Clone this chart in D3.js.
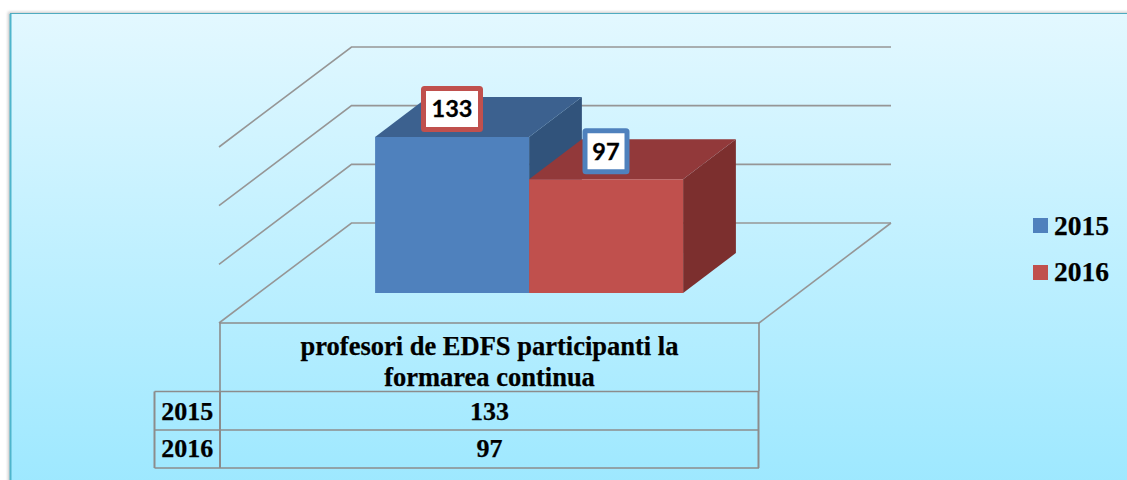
<!DOCTYPE html>
<html><head><meta charset="utf-8">
<script src="https://cdn.jsdelivr.net/npm/d3@7/dist/d3.min.js"></script>
<style>html,body{margin:0;padding:0;background:#fff;overflow:hidden}svg{display:block}</style>
</head><body><svg id="c" width="1127" height="480"></svg>
<script>
const categoryLines = ["profesori de EDFS participanti la", "formarea continua"];
const category = categoryLines.join(" ");
const seriesNames = ["2015", "2016"];
const seriesValues = [133, 97];
const tickValues = [0, 50, 100, 150];
const frontColors = ["#4f81bd", "#c0504d"];
const topColors = ["#3c618f", "#92393a"];
const sideColors = ["#31537b", "#7c2f2e"];

const svg = d3.select("#c");
const defs = svg.append("defs");
const grad = defs.append("linearGradient").attr("id", "bg").attr("x1", 0).attr("y1", 0).attr("x2", 0).attr("y2", 1);
grad.append("stop").attr("offset", "0%").attr("stop-color", "#e3f8ff");
grad.append("stop").attr("offset", "100%").attr("stop-color", "#9de8ff");
const blur = defs.append("filter").attr("id", "sh").attr("x", "-5%").attr("width", "110%");
blur.append("feGaussianBlur").attr("stdDeviation", 1.5);

// frame
svg.append("rect").attr("x", 8).attr("y", 12).attr("width", 1125).attr("height", 475).attr("fill", "#999").attr("opacity", 0.55).attr("filter", "url(#sh)");
svg.append("rect").attr("x", 10.5).attr("y", 13.5).attr("width", 1125).attr("height", 475).attr("fill", "url(#bg)").attr("stroke", "#4fabc0").attr("stroke-width", 1);
svg.append("line").attr("x1", 10.5).attr("x2", 10.5).attr("y1", 14).attr("y2", 480).attr("stroke", "#4fb5cc").attr("stroke-width", 2);

// 3-D projection: x on the front plane, value, depth fraction 0..1
const floorFront = 323, depthX = 132, depthY = 100;
const xCat = d3.scaleBand([category], [220, 759]).paddingOuter(0.375);
const xSer = d3.scaleBand(seriesNames, [xCat(category), xCat(category) + xCat.bandwidth()]);
const y = d3.scaleLinear([0, 150], [0, 176]);
const P = (x, v, d) => [x + d * depthX, floorFront - d * depthY - y(v)];
const poly = pts => d3.line()(pts) + "Z";

const gGrid = svg.append("g").attr("fill", "none").attr("stroke", "#969696").attr("stroke-width", 1.6);
tickValues.forEach(t => {
  gGrid.append("path").attr("d", d3.line()([P(219, t, 0), P(219.5, t, 1), P(759, t, 1)]));
});
gGrid.append("path").attr("d", d3.line()([P(759, 0, 1), P(759, 0, 0)]));

// bars
const d0 = 0.3, d1 = 0.7;
seriesNames.forEach((s, i) => {
  const a = xSer(s), b = a + xSer.bandwidth(), v = seriesValues[i];
  const g = svg.append("g");
  g.append("path").attr("fill", sideColors[i]).attr("d", poly([P(b, 0, d0), P(b, 0, d1), P(b, v, d1), P(b, v, d0)]));
  g.append("path").attr("fill", topColors[i]).attr("d", poly([P(a, v, d0), P(a, v, d1), P(b, v, d1), P(b, v, d0)]));
  g.append("path").attr("fill", frontColors[i]).attr("d", poly([P(a, 0, d0), P(b, 0, d0), P(b, v, d0), P(a, v, d0)]));
});

// data labels
const labelW = [57, 42];
seriesNames.forEach((s, i) => {
  const v = seriesValues[i];
  const c = P(xSer(s) + xSer.bandwidth() / 2, v, 0.5);
  const bw = labelW[i], bh = 41;
  const cx = c[0] - 26.5, cy = c[1] - 8;
  const g = svg.append("g");
  g.append("rect").attr("x", cx - bw / 2).attr("y", cy - bh / 2).attr("width", bw).attr("height", bh).attr("rx", 1)
    .attr("fill", "#fff").attr("stroke", frontColors[1 - i]).attr("stroke-width", 5);
  g.append("text").attr("x", cx).attr("y", cy + 8.5).attr("text-anchor", "middle")
    .attr("font-family", "Lato, sans-serif").attr("font-weight", 700).attr("font-size", 23.5).attr("fill", "#000")
    .attr("stroke", "#000").attr("stroke-width", 0.3).text(v);
});

// data table
const serif = "'Liberation Serif', serif";
const rowY = [391.5, 430, 468];
const tL = 154.5, tA = 220, tB = 759;
const gT = svg.append("g").attr("fill", "none").attr("stroke", "#8c8c8c").attr("stroke-width", 1.6);
gT.append("path").attr("d", d3.line()([[tA, rowY[0]], [tA, floorFront], [tB, floorFront], [tB, rowY[0]]]));
rowY.forEach(r => gT.append("line").attr("x1", tL).attr("x2", tB).attr("y1", r).attr("y2", r));
[tL, tA, tB - 0.5].forEach(x => gT.append("line").attr("x1", x).attr("x2", x).attr("y1", rowY[0]).attr("y2", rowY[2]).attr("stroke-width", 2));

const txt = (x, yy, t, size, anchor) => svg.append("text").attr("x", x).attr("y", yy).attr("text-anchor", anchor || "middle")
  .attr("font-family", serif).attr("font-weight", 700).attr("font-size", size).attr("fill", "#000")
  .attr("stroke", "#000").attr("stroke-width", 0.25).text(t);
const mid = (tA + tB) / 2;
categoryLines.forEach((l, i) => txt(mid, 355 + i * 31, l, 26.5));
seriesNames.forEach((s, i) => {
  txt((tL + tA) / 2, [419.5, 457][i], s, 26);
  txt(mid, [419.5, 457][i], seriesValues[i], 26);
});

// legend
const legY = [218, 265];
seriesNames.forEach((s, i) => {
  svg.append("rect").attr("x", 1033).attr("y", legY[i]).attr("width", 15).attr("height", 15).attr("fill", frontColors[i]);
  txt(1054, [235, 281][i], s, 27.5, "start");
});
</script></body></html>
